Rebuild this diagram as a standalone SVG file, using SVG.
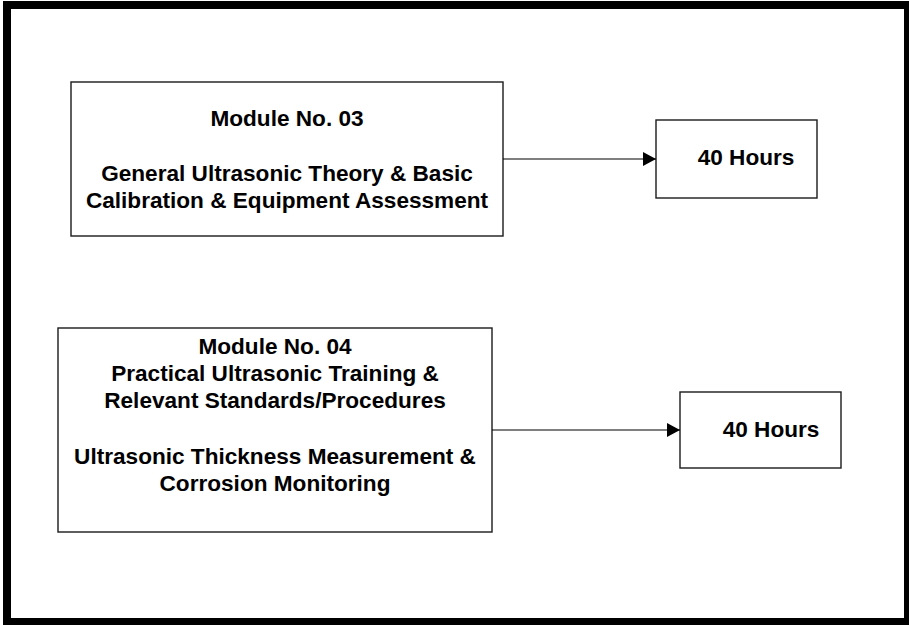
<svg xmlns="http://www.w3.org/2000/svg" width="909" height="625" viewBox="0 0 909 625">
<style>
.box{fill:#fff;stroke:#1a1a1a;stroke-width:1.4}
.t{font-family:"Liberation Sans",Arial,sans-serif;font-weight:bold;font-size:22.6px;fill:#000;text-anchor:middle}
.c{stroke:#000;stroke-width:1.2;fill:none}
</style>
<defs>
<marker id="ah" markerUnits="userSpaceOnUse" markerWidth="14" markerHeight="16" refX="13" refY="7" orient="auto">
<path d="M0,0 L13,7 L0,14 Z" fill="#000"/>
</marker>
</defs>
<rect x="0" y="0" width="909" height="625" fill="#fff"/>
<rect id="frame" x="7" y="5" width="901" height="617" fill="none" stroke="#000" stroke-width="8"/>
<g id="module03">
<rect class="box" x="71" y="82" width="432" height="154"/>
<text class="t" x="287" y="126">Module No. 03</text>
<text class="t" x="287" y="181">General Ultrasonic Theory &amp; Basic</text>
<text class="t" x="287" y="208">Calibration &amp; Equipment Assessment</text>
</g>
<g id="hours03">
<rect class="box" x="656" y="120" width="161" height="78"/>
<text class="t" x="746" y="165">40 Hours</text>
</g>
<g id="module04">
<rect class="box" x="58" y="328" width="434" height="204"/>
<text class="t" x="275" y="354">Module No. 04</text>
<text class="t" x="275" y="381">Practical Ultrasonic Training &amp;</text>
<text class="t" x="275" y="408">Relevant Standards/Procedures</text>
<text class="t" x="275" y="464">Ultrasonic Thickness Measurement &amp;</text>
<text class="t" x="275" y="491">Corrosion Monitoring</text>
</g>
<g id="hours04">
<rect class="box" x="680" y="392" width="161" height="76"/>
<text class="t" x="771" y="437">40 Hours</text>
</g>
<g id="connectors">
<line class="c" x1="503" y1="159" x2="656" y2="159" marker-end="url(#ah)"/>
<line class="c" x1="492" y1="430" x2="680" y2="430" marker-end="url(#ah)"/>
</g>
</svg>
